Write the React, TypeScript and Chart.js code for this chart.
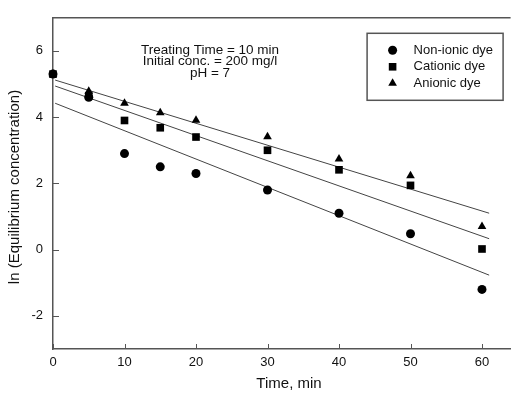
import React, { useEffect, useRef } from 'react';
import { Chart, registerables } from 'chart.js';

Chart.register(...registerables);

const timeMin = [0, 5, 10, 15, 20, 30, 40, 50, 60];
const nonIonic = [5.3, 4.6, 2.9, 2.5, 2.3, 1.8, 1.1, 0.48, -1.2];
const cationic = [5.3, 4.64, 3.9, 3.68, 3.4, 3.0, 2.41, 1.94, 0.02];
const anionic = [5.3, 4.78, 4.42, 4.13, 3.91, 3.41, 2.74, 2.23, 0.7];

const fitTime = [0.3, 61];
const fitNonIonic = [4.42, -0.77];
const fitCationic = [4.94, 0.33];
const fitAnionic = [5.12, 1.1];

const xTicks = [0, 10, 20, 30, 40, 50, 60];
const yTicks = [-2, 0, 2, 4, 6];

const seriesNames = ['Non-ionic dye', 'Cationic dye', 'Anionic dye'];
const seriesStyles = ['circle', 'rect', 'triangle'];
const annotationLines = ['Treating Time = 10 min', 'Initial conc. = 200 mg/l', 'pH = 7'];
const xTitle = 'Time, min';
const yTitle = 'ln (Equilibrium concentration)';

const FONT = '"Liberation Sans", Arial, sans-serif';
const TEXT = '#111';
const AXIS = '#555';

function pts(xs: number[], ys: number[]) {
  return xs.map((x, i) => ({ x, y: ys[i] }));
}

function drawMarker(ctx: CanvasRenderingContext2D, style: string, x: number, y: number) {
  ctx.beginPath();
  if (style === 'circle') {
    ctx.arc(x, y, 4.5, 0, Math.PI * 2);
  } else if (style === 'rect') {
    ctx.rect(x - 3.8, y - 3.8, 7.6, 7.6);
  } else {
    const r = 5;
    ctx.moveTo(x, y - r);
    ctx.lineTo(x + r * 0.866, y + r * 0.5);
    ctx.lineTo(x - r * 0.866, y + r * 0.5);
    ctx.closePath();
  }
  ctx.fill();
}

const decorations = {
  id: 'decorations',
  afterDraw(chart: any) {
    const { ctx, chartArea, scales } = chart;
    const xs = scales.x;
    const ys = scales.y;
    ctx.save();
    // top border
    ctx.strokeStyle = AXIS;
    ctx.lineWidth = 1.5;
    ctx.beginPath();
    ctx.moveTo(chartArea.left, chartArea.top);
    ctx.lineTo(chartArea.right, chartArea.top);
    ctx.stroke();
    // inward ticks
    ctx.lineWidth = 1;
    ctx.beginPath();
    xTicks.forEach((v) => {
      const px = Math.round(xs.getPixelForValue(v)) + 0.5;
      ctx.moveTo(px, chartArea.bottom);
      ctx.lineTo(px, chartArea.bottom - 5);
    });
    yTicks.forEach((v) => {
      const py = Math.round(ys.getPixelForValue(v)) + 0.5;
      ctx.moveTo(chartArea.left, py);
      ctx.lineTo(chartArea.left + 6, py);
    });
    ctx.stroke();

    // annotation
    ctx.fillStyle = TEXT;
    ctx.font = `13.5px ${FONT}`;
    ctx.textAlign = 'center';
    ctx.textBaseline = 'middle';
    const ax = chartArea.left + 157;
    annotationLines.forEach((t, i) => {
      ctx.fillText(t, ax, chartArea.top + 32 + i * 11.7);
    });

    // legend
    ctx.font = `13px ${FONT}`;
    const lx = chartArea.right - 144;
    const ly = chartArea.top + 15;
    ctx.strokeStyle = AXIS;
    ctx.lineWidth = 1.5;
    ctx.strokeRect(lx + 0.5, ly + 0.5, 136, 67);
    ctx.textAlign = 'left';
    seriesNames.forEach((name, i) => {
      const y = ly + 17.5 + i * 16.5;
      ctx.fillStyle = '#000';
      drawMarker(ctx, seriesStyles[i], lx + 26, y);
      ctx.fillStyle = TEXT;
      ctx.fillText(name, lx + 47, y);
    });

    // axis titles
    ctx.font = `15px ${FONT}`;
    ctx.textAlign = 'center';
    ctx.fillStyle = TEXT;
    ctx.fillText(xTitle, chartArea.left + 236, 384);
    ctx.translate(15, 187);
    ctx.rotate(-Math.PI / 2);
    ctx.fillText(yTitle, 0, 0);
    ctx.restore();
  },
};

export default function App() {
  const ref = useRef<HTMLCanvasElement | null>(null);
  useEffect(() => {
    if (!ref.current) return;
    const pointCommon = { borderWidth: 0, backgroundColor: '#000', borderColor: '#000', showLine: false, clip: false };
    const lineCommon = {
      showLine: true,
      pointRadius: 0,
      borderColor: '#444',
      borderWidth: 1,
      backgroundColor: 'transparent',
      fill: false,
    };
    const chart = new Chart(ref.current, {
      type: 'scatter',
      data: {
        datasets: [
          { ...pointCommon, label: seriesNames[1], data: pts(timeMin, cationic), pointStyle: 'rect', pointRadius: 5.4 },
          { ...pointCommon, label: seriesNames[0], data: pts(timeMin, nonIonic), pointStyle: 'circle', pointRadius: 4.5 },
          { ...pointCommon, label: seriesNames[2], data: pts(timeMin, anionic), pointStyle: 'triangle', pointRadius: 5 },
          { ...lineCommon, label: 'fit non-ionic', data: pts(fitTime, fitNonIonic) },
          { ...lineCommon, label: 'fit cationic', data: pts(fitTime, fitCationic) },
          { ...lineCommon, label: 'fit anionic', data: pts(fitTime, fitAnionic) },
        ] as any,
      },
      options: {
        responsive: false,
        animation: false,
        devicePixelRatio: 1,
        layout: { padding: { top: 10, right: 0, left: 0, bottom: 0 } },
        plugins: { legend: { display: false }, tooltip: { enabled: false } },
        scales: {
          x: {
            type: 'linear',
            min: 0,
            max: 64,
            grid: { display: false, drawTicks: false },
            border: { display: true, color: AXIS, width: 1.5 },
            afterBuildTicks: (s: any) => {
              s.ticks = xTicks.map((v) => ({ value: v }));
            },
            afterFit: (s: any) => {
              s.height = 45;
            },
            ticks: { padding: 6, color: TEXT, font: { family: FONT, size: 13 }, maxRotation: 0 },
          },
          y: {
            type: 'linear',
            min: -3,
            max: 7,
            grid: { display: false, drawTicks: false },
            border: { display: true, color: AXIS, width: 1.5 },
            afterBuildTicks: (s: any) => {
              s.ticks = yTicks.map((v) => ({ value: v }));
            },
            afterFit: (s: any) => {
              s.width = 53;
            },
            ticks: { padding: 10, color: TEXT, font: { family: FONT, size: 13 } },
          },
        },
      },
      plugins: [decorations],
    });
    return () => chart.destroy();
  }, []);
  return (
    <div style={{ position: 'absolute', left: 0, top: 0, width: 516, height: 394, background: '#fff' }}>
      <canvas ref={ref} width={516} height={394} style={{ display: 'block' }} />
    </div>
  );
}
